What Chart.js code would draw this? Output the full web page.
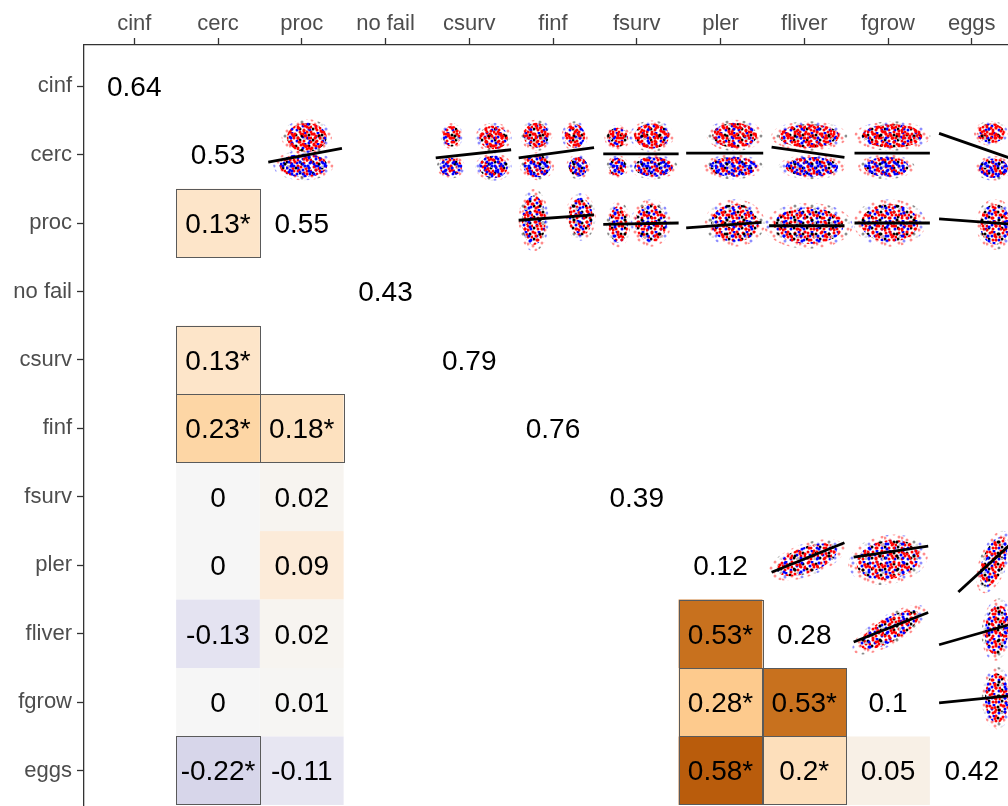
<!DOCTYPE html>
<html>
<head>
<meta charset="utf-8">
<script src="https://cdn.jsdelivr.net/npm/chart.js@4"></script>
<style>
html, body { margin: 0; padding: 0; background: #fff; overflow: hidden; }
</style>
</head>
<body>
<canvas id="corrChart" width="1022" height="830"></canvas>
<script>
const labels = ["cinf", "cerc", "proc", "no fail", "csurv", "finf", "fsurv", "pler", "fliver", "fgrow", "eggs"];
const diagValues = [0.64, 0.53, 0.55, 0.43, 0.79, 0.76, 0.39, 0.12, 0.28, 0.1, 0.42];

// lower triangle: row index, column index, correlation, significant (*)
const lowRows   = [2, 4, 5, 5, 6, 6, 7, 7, 8, 8, 8, 9, 9, 9, 9, 10, 10, 10, 10, 10];
const lowCols   = [1, 1, 1, 2, 1, 2, 1, 2, 1, 2, 7, 1, 2, 7, 8, 1, 2, 7, 8, 9];
const lowValues = [0.13, 0.13, 0.23, 0.18, 0, 0.02, 0, 0.09, -0.13, 0.02, 0.53, 0, 0.01, 0.28, 0.53, -0.22, -0.11, 0.58, 0.2, 0.05];
const lowSig    = [1, 1, 1, 1, 0, 0, 0, 0, 0, 0, 1, 0, 0, 1, 1, 1, 0, 1, 1, 0];

// upper triangle: fitted lines, offsets inside the cell [x0, y0, x1, y1]
const fitRows = [1, 1, 1, 1, 1, 1, 1, 1, 2, 2, 2, 2, 2, 2, 7, 7, 7, 8, 8, 9];
const fitCols = [2, 4, 5, 6, 7, 8, 9, 10, 5, 6, 7, 8, 9, 10, 8, 9, 10, 9, 10, 10];
const fitEnds = [
  [-0.40, 0.11, 0.48, -0.09], [-0.40, 0.05, 0.50, -0.07], [-0.41, 0.05, 0.49, -0.10],
  [-0.40, -0.01, 0.50, -0.01], [-0.41, -0.02, 0.51, -0.02], [-0.39, -0.11, 0.48, 0.04],
  [-0.40, -0.02, 0.50, -0.02], [-0.39, -0.31, 0.50, 0.07],
  [-0.41, -0.04, 0.49, -0.12], [-0.40, 0.02, 0.50, 0.00], [-0.41, 0.07, 0.49, -0.01],
  [-0.42, 0.04, 0.48, 0.04], [-0.40, 0.00, 0.50, 0.00], [-0.39, -0.06, 0.50, 0.02],
  [-0.39, 0.10, 0.48, -0.33], [-0.41, -0.12, 0.48, -0.28], [-0.16, 0.39, 0.50, -0.35],
  [-0.41, 0.12, 0.48, -0.31], [-0.39, 0.16, 0.50, -0.15],
  [-0.39, 0.01, 0.50, -0.10]
];

// point clouds: [dx, dy, rx, ry, angle]; tone 0 mixed, 1 mostly red, 2 mostly blue
const cloudRows = [1, 1, 1, 1, 1, 1, 1, 1, 1, 1, 1, 1, 1, 1, 1, 1, 1, 1, 1, 1, 1, 1,
                   2, 2, 2, 2, 2, 2, 2, 2, 7, 7, 7, 8, 8, 9];
const cloudCols = [2, 2, 4, 4, 4, 4, 5, 5, 5, 5, 6, 6, 6, 6, 7, 7, 8, 8, 9, 9, 10, 10,
                   5, 5, 6, 6, 7, 8, 9, 10, 8, 9, 10, 9, 10, 10];
const cloudTone = [1, 2, 1, 1, 2, 2, 1, 1, 2, 2, 1, 1, 2, 2, 1, 2, 1, 2, 1, 2, 1, 2,
                   0, 0, 0, 0, 0, 0, 0, 0, 0, 0, 0, 0, 0, 0];
const cloudShapes = [
  [0.06, -0.25, 0.25, 0.22, 0], [0.02, 0.16, 0.30, 0.18, 0],
  [-0.21, -0.27, 0.11, 0.16, 0], [0.29, -0.25, 0.18, 0.18, 0], [-0.22, 0.18, 0.14, 0.14, 0], [0.29, 0.18, 0.18, 0.17, 0],
  [-0.20, -0.28, 0.16, 0.19, 0], [0.26, -0.27, 0.13, 0.18, 0], [-0.19, 0.17, 0.17, 0.17, 0], [0.30, 0.18, 0.12, 0.15, 0],
  [-0.23, -0.25, 0.13, 0.15, 0], [0.18, -0.27, 0.22, 0.19, 0], [-0.23, 0.18, 0.11, 0.14, 0], [0.20, 0.18, 0.24, 0.15, 0],
  [0.17, -0.28, 0.28, 0.19, 0], [0.15, 0.18, 0.30, 0.15, 0],
  [0.06, -0.27, 0.38, 0.18, 0], [0.09, 0.18, 0.33, 0.15, 0],
  [0.05, -0.27, 0.38, 0.18, 0], [-0.02, 0.18, 0.28, 0.15, 0],
  [0.23, -0.31, 0.17, 0.15, 0], [0.26, 0.20, 0.18, 0.15, 0],
  [-0.23, -0.04, 0.15, 0.38, 0], [0.33, -0.09, 0.15, 0.29, 0],
  [-0.22, 0.02, 0.12, 0.28, 0], [0.17, 0.00, 0.20, 0.29, 0],
  [0.17, 0.00, 0.30, 0.29, 0],
  [0.05, 0.04, 0.44, 0.28, 0],
  [0.02, 0.00, 0.36, 0.29, 0],
  [0.28, 0.02, 0.19, 0.31, 0],
  [0.03, -0.08, 0.40, 0.20, -20], [0.00, -0.08, 0.40, 0.30, -10], [0.26, -0.05, 0.14, 0.40, 20],
  [0.02, -0.06, 0.42, 0.18, -30], [0.30, -0.06, 0.15, 0.38, 5],
  [0.30, -0.06, 0.15, 0.38, 0]
];

// fill colours
const colourStops = [
  [-0.22, [215, 214, 234]], [-0.11, [231, 230, 242]], [0, [246, 246, 246]],
  [0.05, [248, 240, 230]], [0.09, [252, 235, 217]], [0.13, [253, 229, 201]],
  [0.2, [253, 223, 187]], [0.23, [253, 214, 165]], [0.28, [253, 202, 141]],
  [0.53, [200, 113, 30]], [0.58, [185, 92, 12]]
];

function fillFor(v) {
  for (let i = 1; i < colourStops.length; i++) {
    let a = colourStops[i - 1], b = colourStops[i];
    if (v <= b[0]) {
      let t = Math.max(0, (v - a[0]) / (b[0] - a[0]));
      let c = a[1].map((ch, k) => Math.round(ch + (b[1][k] - ch) * t));
      return "rgb(" + c.join(",") + ")";
    }
  }
  return "rgb(185,92,12)";
}

// speckle tiles for the point clouds
function makeTile(ctx, w, h, dots) {
  let tile = document.createElement("canvas");
  tile.width = w;
  tile.height = h;
  let t = tile.getContext("2d");
  dots.forEach(d => {
    t.fillStyle = d[2];
    t.beginPath();
    t.arc(d[0], d[1], 1.5, 0, Math.PI * 2);
    t.fill();
  });
  return ctx.createPattern(tile, "repeat");
}

let speckles = null, tints = null;

const matrixPlugin = {
  id: "matrix",
  beforeDatasetsDraw(chart) {
    let ctx = chart.ctx;
    let xs = chart.scales.x, ys = chart.scales.y;
    if (!speckles) {
      speckles = [
        makeTile(ctx, 13, 11, [
          [2, 2, "#ff0000"], [6, 1, "#0000ff"], [10, 3, "#000000"], [4, 5, "#0000ff"],
          [8, 6, "#ff0000"], [1, 8, "#000000"], [5, 9, "#ff0000"], [11, 9, "#0000ff"],
          [12, 6, "#ff0000"], [7, 3.5, "#ff0000"]
        ]),
        makeTile(ctx, 17, 14, [
          [3, 3, "#0000ff"], [10, 2, "#ff0000"], [15, 5, "#ff0000"], [6, 8, "#ff0000"],
          [13, 10, "#000000"], [2, 12, "#0000ff"], [9, 12, "#ff0000"], [16, 13, "#bbbbbb"],
          [1, 6, "#ff0000"]
        ])
      ];
      tints = [
        null,
        makeTile(ctx, 11, 10, [[3, 2, "#ff0000"], [8, 6, "#ff0000"], [1, 8, "#ff0000"], [6, 4, "#ff0000"]]),
        makeTile(ctx, 11, 10, [[3, 2, "#0000ff"], [8, 6, "#0000ff"], [1, 8, "#0000ff"], [6, 4, "#0000ff"]])
      ];
    }
    ctx.save();

    // lower triangle tiles
    lowRows.forEach((r, i) => {
      let c = lowCols[i];
      let x0 = xs.getPixelForValue(c - 0.5), x1 = xs.getPixelForValue(c + 0.5);
      let y0 = ys.getPixelForValue(r - 0.5), y1 = ys.getPixelForValue(r + 0.5);
      ctx.fillStyle = fillFor(lowValues[i]);
      ctx.fillRect(x0, y0, x1 - x0, y1 - y0);
    });
    lowRows.forEach((r, i) => {
      if (!lowSig[i]) return;
      let c = lowCols[i];
      let x0 = xs.getPixelForValue(c - 0.5), x1 = xs.getPixelForValue(c + 0.5);
      let y0 = ys.getPixelForValue(r - 0.5), y1 = ys.getPixelForValue(r + 0.5);
      ctx.strokeStyle = "#5a5a5a";
      ctx.lineWidth = 1;
      ctx.strokeRect(Math.round(x0) + 0.5, Math.round(y0) + 0.5, Math.round(x1 - x0), Math.round(y1 - y0));
    });

    // texts
    ctx.font = '28px "Liberation Sans", Arial, sans-serif';
    ctx.fillStyle = "#000";
    ctx.textAlign = "center";
    ctx.textBaseline = "middle";
    lowRows.forEach((r, i) => {
      let txt = String(lowValues[i]) + (lowSig[i] ? "*" : "");
      ctx.fillText(txt, xs.getPixelForValue(lowCols[i]), ys.getPixelForValue(r) + 2);
    });
    diagValues.forEach((v, i) => {
      ctx.fillText(String(v), xs.getPixelForValue(i), ys.getPixelForValue(i) + 2);
    });

    // point clouds
    let cellW = xs.getPixelForValue(1) - xs.getPixelForValue(0);
    let cellH = ys.getPixelForValue(1) - ys.getPixelForValue(0);
    cloudRows.forEach((r, i) => {
      let s = cloudShapes[i];
      let cx = xs.getPixelForValue(cloudCols[i] + s[0]);
      let cy = ys.getPixelForValue(r + s[1]);
      let rot = s[4] * Math.PI / 180;
      ctx.fillStyle = speckles[1];
      ctx.globalAlpha = 0.45;
      ctx.beginPath();
      ctx.ellipse(cx, cy, s[2] * cellW * 1.2, s[3] * cellH * 1.2, rot, 0, Math.PI * 2);
      ctx.fill();
      ctx.globalAlpha = 1;
      let fills = tints[cloudTone[i]] ? speckles.concat([tints[cloudTone[i]]]) : speckles;
      fills.forEach(p => {
        ctx.fillStyle = p;
        ctx.beginPath();
        ctx.ellipse(cx, cy, s[2] * cellW * 0.95, s[3] * cellH * 0.95, rot, 0, Math.PI * 2);
        ctx.fill();
      });
    });
    ctx.restore();
  }
};

const fitDatasets = fitRows.map((r, i) => ({
  data: [
    { x: fitCols[i] + fitEnds[i][0], y: r + fitEnds[i][1] },
    { x: fitCols[i] + fitEnds[i][2], y: r + fitEnds[i][3] }
  ],
  showLine: true,
  borderColor: "#000",
  borderWidth: 2.8,
  pointRadius: 0
}));

const tickFont = { family: '"Liberation Sans", Arial, sans-serif', size: 22 };

let ctx = document.getElementById("corrChart").getContext("2d");
let chart = new Chart(ctx, {
  type: "scatter",
  data: { datasets: fitDatasets },
  options: {
    responsive: false,
    animation: false,
    layout: { padding: 0 },
    plugins: { legend: { display: false }, tooltip: { enabled: false } },
    scales: {
      x: {
        type: "linear",
        position: "top",
        min: -0.6,
        max: 10.6,
        afterBuildTicks: s => { s.ticks = labels.map((l, i) => ({ value: i })); },
        afterFit: s => { s.height = 45; },
        ticks: { callback: v => labels[v], font: tickFont, color: "#4d4d4d", padding: 1, maxRotation: 0, autoSkip: false },
        grid: { drawOnChartArea: false, tickLength: 7, tickColor: "#333", color: "#333", tickWidth: 1.3 },
        border: { color: "#333", width: 1.3 }
      },
      y: {
        type: "linear",
        reverse: true,
        min: -0.6,
        max: 10.6,
        afterBuildTicks: s => { s.ticks = labels.map((l, i) => ({ value: i })); },
        afterFit: s => { s.width = 84; },
        ticks: { callback: v => labels[v], font: tickFont, color: "#4d4d4d", padding: 5, autoSkip: false },
        grid: { drawOnChartArea: false, tickLength: 7, tickColor: "#333", color: "#333", tickWidth: 1.3 },
        border: { color: "#333", width: 1.3 }
      }
    }
  },
  plugins: [matrixPlugin]
});
</script>
</body>
</html>
